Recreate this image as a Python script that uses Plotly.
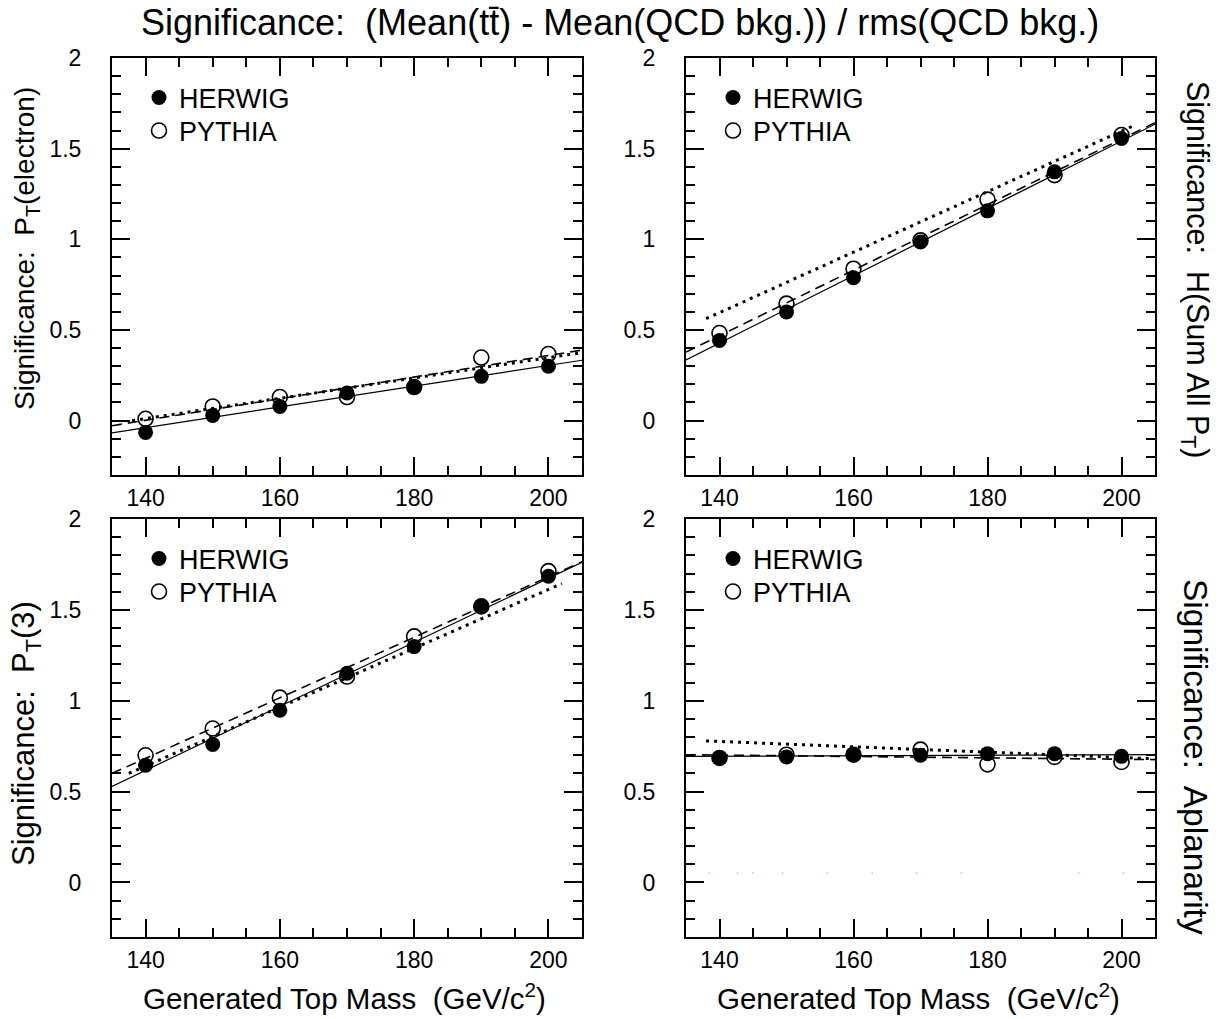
import plotly.graph_objects as go

FONT = "Liberation Sans, Arial, Helvetica, sans-serif"

# ---------------- data ----------------
mass = [140, 150, 160, 170, 180, 190, 200]

# Panel 1: Pt(electron)
el_herwig = [-0.065, 0.028, 0.078, 0.152, 0.185, 0.244, 0.300]
el_pythia = [0.010, 0.078, 0.130, 0.130, 0.185, 0.348, 0.367]
el_solid_x, el_solid_y = [135, 205], [-0.068, 0.333]
el_dash_x, el_dash_y = [135, 205], [-0.028, 0.389]
el_dot_x, el_dot_y = [138, 205], [0.000, 0.375]

# Panel 2: H (sum all Pt)
ht_herwig = [0.442, 0.599, 0.788, 0.985, 1.157, 1.372, 1.556]
ht_pythia = [0.483, 0.645, 0.838, 0.994, 1.219, 1.354, 1.575]
ht_solid_x, ht_solid_y = [135, 205], [0.335, 1.635]
ht_dash_x, ht_dash_y = [135, 205], [0.378, 1.643]
ht_dot_x, ht_dot_y = [138, 202], [0.562, 1.630]

# Panel 3: Pt(3)
p3_herwig = [0.645, 0.759, 0.948, 1.151, 1.298, 1.519, 1.685]
p3_pythia = [0.700, 0.847, 1.017, 1.133, 1.354, 1.519, 1.713]
p3_solid_x, p3_solid_y = [135, 205], [0.529, 1.762]
p3_dash_x, p3_dash_y = [135, 205], [0.600, 1.765]
p3_dot_x, p3_dot_y = [137.5, 202], [0.600, 1.645]

# Panel 4: Aplanarity
ap_herwig = [0.685, 0.691, 0.703, 0.700, 0.709, 0.709, 0.694]
ap_pythia = [0.685, 0.703, 0.703, 0.731, 0.650, 0.691, 0.663]
ap_solid_x, ap_solid_y = [135, 205], [0.694, 0.703]
ap_dash_x, ap_dash_y = [135, 205], [0.703, 0.676]
ap_dot_x, ap_dot_y = [138, 204.5], [0.779, 0.681]
ap_faint_x = [138.5, 142.7, 145.0, 149.4, 156.1, 162.8, 169.4, 176.1, 193.6, 200.3]
ap_faint_y = [0.052] * len(ap_faint_x)

panels = [
    dict(h=el_herwig, p=el_pythia, s=(el_solid_x, el_solid_y), d=(el_dash_x, el_dash_y),
         o=(el_dot_x, el_dot_y)),
    dict(h=ht_herwig, p=ht_pythia, s=(ht_solid_x, ht_solid_y), d=(ht_dash_x, ht_dash_y),
         o=(ht_dot_x, ht_dot_y)),
    dict(h=p3_herwig, p=p3_pythia, s=(p3_solid_x, p3_solid_y), d=(p3_dash_x, p3_dash_y),
         o=(p3_dot_x, p3_dot_y)),
    dict(h=ap_herwig, p=ap_pythia, s=(ap_solid_x, ap_solid_y), d=(ap_dash_x, ap_dash_y),
         o=(ap_dot_x, ap_dot_y)),
]

W, H = 1223, 1019
# panel frames in pixels (left, right, top, bottom)
frames = [(112, 582, 58, 475), (686, 1155, 58, 475), (112, 582, 519, 937), (686, 1155, 519, 937)]

fig = go.Figure()
layout = dict(width=W, height=H, margin=dict(l=0, r=0, t=0, b=0, autoexpand=False),
              paper_bgcolor="white", plot_bgcolor="white",
              font=dict(family=FONT, color="black"))

def legend_box(px, py):
    return dict(x=px / W, y=1 - py / H, xanchor="left", yanchor="middle",
                bgcolor="rgba(0,0,0,0)", borderwidth=0, itemsizing="trace",
                font=dict(size=27, color="black", family=FONT))

for i, (pan, fr) in enumerate(zip(panels, frames)):
    k = "" if i == 0 else str(i + 1)
    xa, ya = "x" + k, "y" + k
    legH = "legend" if i == 0 else "legend" + str(2 * i + 1)
    legP = "legend" + str(2 * i + 2)
    for (lx, ly), dash, wdt in [(pan["s"], "solid", 1.2), (pan["d"], "10px,6px", 1.6), (pan["o"], "3px,5px", 3)]:
        fig.add_trace(go.Scatter(x=lx, y=ly, mode="lines", xaxis=xa, yaxis=ya, showlegend=False,
                                 line=dict(color="black", width=wdt, dash=dash), hoverinfo="skip"))
    if i == 3:
        fig.add_trace(go.Scatter(x=ap_faint_x, y=ap_faint_y, mode="markers", xaxis=xa, yaxis=ya,
                                 showlegend=False, marker=dict(size=2, color="#ffb8c8"), hoverinfo="skip"))
    fig.add_trace(go.Scatter(x=mass, y=pan["p"], mode="markers", name="PYTHIA", xaxis=xa, yaxis=ya,
                             legend=legP,
                             marker=dict(symbol="circle-open", size=15, color="black", line=dict(width=1.6))))
    fig.add_trace(go.Scatter(x=mass, y=pan["h"], mode="markers", name="HERWIG", xaxis=xa, yaxis=ya,
                             legend=legH,
                             marker=dict(symbol="circle", size=15, color="black")))
    l, r, t, b = fr
    common = dict(showline=True, linecolor="black", linewidth=2, mirror="allticks",
                  ticks="inside", ticklen=18, tickwidth=2, tickcolor="black",
                  showgrid=False, zeroline=False, automargin=False,
                  tickfont=dict(size=23, color="black", family=FONT))
    layout["xaxis" + k] = dict(common, domain=[l / W, r / W], anchor=ya, range=[135, 205],
                               tickmode="linear", tick0=140, dtick=20, ticklabelstandoff=1,
                               minor=dict(ticks="inside", ticklen=9, tickwidth=2, tickcolor="black",
                                          dtick=5, tick0=135, showgrid=False))
    layout["yaxis" + k] = dict(common, domain=[1 - b / H, 1 - t / H], anchor=xa, range=[-0.3, 2],
                               tickmode="linear", tick0=0, dtick=0.5, ticklabelstandoff=24,
                               minor=dict(ticks="inside", ticklen=9, tickwidth=2, tickcolor="black",
                                          dtick=0.1, tick0=0, showgrid=False))
    lx0 = l + 27
    layout[legH] = legend_box(lx0, t + 40)
    layout[legP] = legend_box(lx0, t + 73)

ann = []
ann.append(dict(text="Significance:  (Mean(tt\u0304) - Mean(QCD bkg.)) / rms(QCD bkg.)",
                x=620 / W, y=1 - 22 / H, xref="paper", yref="paper", showarrow=False,
                xanchor="center", yanchor="middle",
                font=dict(size=36, family=FONT, color="black")))
ylabels = [
    ("Significance:  P<sub>T</sub>(electron)", 26, 249, -90, 28),
    ("Significance:  H(Sum All P<sub>T</sub>)", 1196, 270, 90, 30.5),
    ("Significance:  P<sub>T</sub>(3)", 26, 734, -90, 31),
    ("Significance:  Aplanarity", 1196, 757, 90, 33.5),
]
for txt, px, py, ang, fs in ylabels:
    ann.append(dict(text=txt, x=px / W, y=1 - py / H, xref="paper", yref="paper", showarrow=False,
                    xanchor="center", yanchor="middle",
                    textangle=ang, font=dict(size=fs, family=FONT, color="black")))
for px in (344, 918):
    ann.append(dict(text="Generated Top Mass  (GeV/c<sup>2</sup>)", x=px / W, y=1 - 996 / H,
                    xref="paper", yref="paper", showarrow=False,
                    xanchor="center", yanchor="middle",
                    font=dict(size=29.5, family=FONT, color="black")))
layout["annotations"] = ann
fig.update_layout(**layout)

fig.write_html("out.html", config={"displayModeBar": False},
               post_script="document.body.style.margin='0';")
